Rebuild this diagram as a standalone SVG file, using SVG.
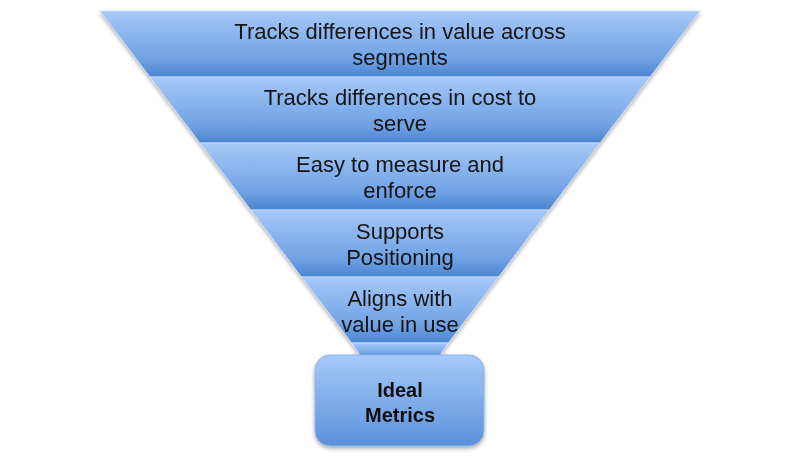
<svg xmlns="http://www.w3.org/2000/svg" width="800" height="465" viewBox="0 0 800 465">
<style>
.band{fill:url(#bandGrad);stroke:#cfe0f7;stroke-width:0.8}
.t{font-family:"Liberation Sans",Arial,sans-serif;font-size:22px;fill:#141414;text-anchor:middle}
.b{font-family:"Liberation Sans",Arial,sans-serif;font-size:20px;font-weight:bold;fill:#111;text-anchor:middle}
</style>
<defs>
<linearGradient id="bandGrad" x1="0" y1="0" x2="0" y2="1">
<stop offset="0" stop-color="#a6c9f8"/>
<stop offset="0.75" stop-color="#6ea0e3"/>
<stop offset="1" stop-color="#4a84d1"/>
</linearGradient>
<linearGradient id="boxGrad" x1="0" y1="0" x2="0" y2="1">
<stop offset="0" stop-color="#a6c9f8"/>
<stop offset="1" stop-color="#5a91db"/>
</linearGradient>
<filter id="sh" x="-10%" y="-10%" width="130%" height="130%">
<feGaussianBlur in="SourceAlpha" stdDeviation="2"/>
<feOffset dx="0" dy="2" result="o"/>
<feComponentTransfer><feFuncA type="linear" slope="0.35"/></feComponentTransfer>
<feMerge><feMergeNode/><feMergeNode in="SourceGraphic"/></feMerge>
</filter>
</defs>
<g id="funnel" filter="url(#sh)">
<g id="band1"><polygon class="band" points="100,11 700,11 650,77 150,77"/>
<text class="t" x="400" y="39">Tracks differences in value across</text>
<text class="t" x="400" y="65">segments</text></g>
<g id="band2"><polygon class="band" points="150,77 650,77 600,143 200,143"/>
<text class="t" x="400" y="105">Tracks differences in cost to</text>
<text class="t" x="400" y="131">serve</text></g>
<g id="band3"><polygon class="band" points="200,143 600,143 549,210 251,210"/>
<text class="t" x="400" y="172">Easy to measure and</text>
<text class="t" x="400" y="198">enforce</text></g>
<g id="band4"><polygon class="band" points="251,210 549,210 498.4,277 301.6,277"/>
<text class="t" x="400" y="239">Supports</text>
<text class="t" x="400" y="265">Positioning</text></g>
<g id="band5"><polygon class="band" points="301.6,277 498.4,277 448.3,343 351.7,343"/>
<text class="t" x="400" y="306">Aligns with</text>
<text class="t" x="400" y="332">value in use</text></g>
<g id="band6"><polygon class="band" points="351.7,343 448.3,343 438,358 362,358"/></g>
</g>
<g id="ideal-metrics" filter="url(#sh)">
<rect x="315" y="355" width="169" height="91" rx="15" ry="15" fill="url(#boxGrad)" stroke="#8fb5ea" stroke-width="1"/>
<text class="b" x="400" y="397">Ideal</text>
<text class="b" x="400" y="422">Metrics</text>
</g>
<g id="connectors"/>
</svg>
